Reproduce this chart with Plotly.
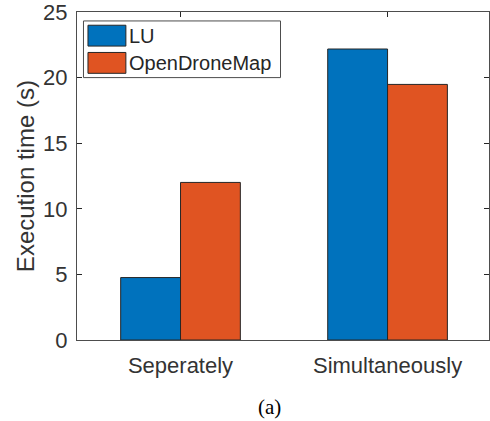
import plotly.graph_objects as go

categories = ["Seperately", "Simultaneously"]
lu_values = [4.76, 22.18]
odm_values = [12.01, 19.48]
series_names = ["LU", "OpenDroneMap"]
series_colors = ["#0072BD", "#E05422"]
y_ticks = [0, 5, 10, 15, 20, 25]

W, H = 490, 421
L, R, T, B = 77, 0, 10, 81
PW, PH = W - L - R, H - T - B

def px(x):
    return (x - L) / PW

def py(y):
    return (H - B - y) / PH

fig = go.Figure()
for name, vals, col in zip(series_names, [lu_values, odm_values], series_colors):
    fig.add_trace(go.Bar(
        x=[1, 2], y=vals, name=name,
        marker=dict(color=col, line=dict(color="#262626", width=1)),
        showlegend=False,
    ))

axis_font = dict(family="Liberation Sans, Arial, sans-serif", size=22, color="#333333")

fig.update_layout(
    width=W, height=H,
    margin=dict(l=L, r=R, t=T, b=B, pad=0),
    plot_bgcolor="white", paper_bgcolor="white",
    barmode="group", bargap=0.422, bargroupgap=0,
    xaxis=dict(
        range=[0.5, 2.49], tickvals=[1, 2], ticktext=categories,
        ticks="inside", ticklen=5, tickcolor="#262626", tickwidth=1,
        showline=True, linecolor="#4d4d4d", linewidth=1, mirror="ticks",
        showgrid=False, zeroline=False, tickfont=axis_font,
        ticklabelstandoff=6, ticklabeloverflow="allow",
    ),
    yaxis=dict(
        range=[0, 25], tickvals=y_ticks,
        ticks="inside", ticklen=5, tickcolor="#262626", tickwidth=1,
        showline=True, linecolor="#4d4d4d", linewidth=1, mirror="ticks",
        showgrid=False, zeroline=False, tickfont=axis_font,
        ticklabelstandoff=4, ticklabeloverflow="allow",
    ),
)

# y-axis title
fig.add_annotation(
    x=px(25), y=py(175), xref="paper", yref="paper",
    text="Execution time (s)", textangle=-90, showarrow=False,
    xanchor="center", yanchor="middle",
    font=dict(family="Liberation Sans, Arial, sans-serif", size=24, color="#333333"),
)

# caption
fig.add_annotation(
    x=px(270), y=py(407), xref="paper", yref="paper",
    text="(a)", showarrow=False, xanchor="center", yanchor="middle",
    font=dict(family="Liberation Serif, Times New Roman, serif", size=21, color="black"),
)

# legend (drawn manually to match MATLAB-style swatches)
fig.add_shape(type="rect", xref="paper", yref="paper",
              x0=px(83.5), x1=px(281), y0=py(76), y1=py(19),
              line=dict(color="#4d4d4d", width=1), fillcolor="white")
sw_rows = [(23.3, 44.3), (50.7, 71.7)]
for (y0, y1), name, col in zip(sw_rows, series_names, series_colors):
    fig.add_shape(type="rect", xref="paper", yref="paper",
                  x0=px(88), x1=px(126), y0=py(y1), y1=py(y0),
                  line=dict(color="#262626", width=1), fillcolor=col)
    fig.add_annotation(
        x=px(127.5), y=py((y0 + y1) / 2), xref="paper", yref="paper",
        text=name, showarrow=False, xanchor="left", yanchor="middle",
        font=dict(family="Liberation Sans, Arial, sans-serif", size=20, color="#262626"),
    )

fig.write_html("out.html")
